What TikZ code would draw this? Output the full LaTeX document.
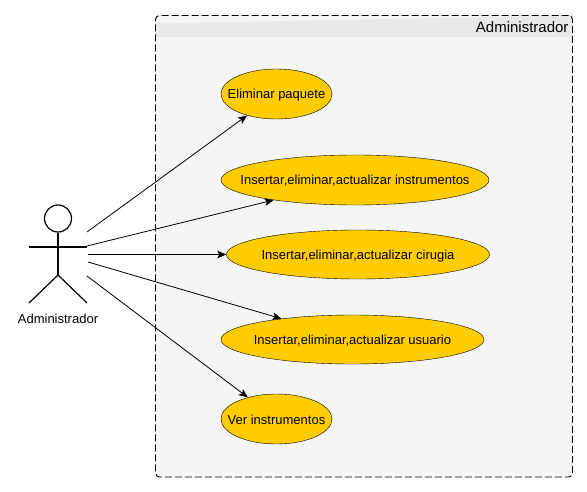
\documentclass[tikz,border=0pt]{standalone}
\usepackage{fontspec}
\setmainfont{Liberation Sans}
\usetikzlibrary{shapes.geometric,arrows.meta}
\definecolor{caseFill}{HTML}{FFCC00}
\definecolor{boxFill}{HTML}{F5F5F5}
\definecolor{boxHead}{HTML}{E9E9E9}
\begin{document}
\begin{tikzpicture}[x=1pt,y=-1pt,
    useCase/.style={draw,ellipse,fill=caseFill,inner sep=0pt,text height=10pt,text depth=0pt,font=\fontsize{13}{15}\selectfont},
    useLink/.style={-{Stealth[length=9pt,width=7.5pt,inset=2pt]},line width=0.8pt},
    actorLine/.style={line width=1.2pt},
]
\useasboundingbox (0,0) rectangle (587,492);
% System box
\node[draw=none,fill=boxFill,rounded corners=4pt,minimum width=417pt,minimum height=461.5pt,inner sep=0pt] (sysBox) at (364,246.25) {};
\fill[boxHead] (155.5,37) -- (155.5,19.5) arc[start angle=180,end angle=90,radius=4] -- (568.5,15.5) arc[start angle=90,end angle=0,radius=4] -- (572.5,37) -- cycle;
\node[draw,dash pattern=on 7pt off 3pt,line width=0.9pt,rounded corners=4pt,minimum width=417pt,minimum height=461.5pt,inner sep=0pt] (sysFrame) at (364,246.25) {};
\node[anchor=east,font=\fontsize{15}{17}\selectfont] (sysTitle) at (572,27) {Administrador};
% Use cases
\node[useCase,minimum width=111pt,minimum height=50pt] (caseA) at (276.5,94) {\makebox[0pt]{Eliminar paquete}};
\node[useCase,minimum width=268pt,minimum height=50pt] (caseB) at (355,180) {\makebox[0pt]{Insertar,eliminar,actualizar instrumentos}};
\node[useCase,minimum width=263pt,minimum height=49pt] (caseC) at (358,254.5) {\makebox[0pt]{Insertar,eliminar,actualizar cirugia}};
\node[useCase,minimum width=263pt,minimum height=49pt] (caseD) at (352.5,339.5) {\makebox[0pt]{Insertar,eliminar,actualizar usuario}};
\node[useCase,minimum width=111pt,minimum height=50pt] (caseE) at (276.5,419) {\makebox[0pt]{Ver instrumentos}};
% Actor
\node[draw,circle,line width=1.2pt,fill=white,minimum size=27pt,inner sep=0pt] (actorHead) at (58,218.5) {};
\coordinate (actorHip) at (58,275);
\coordinate (armL) at (29,247);
\coordinate (armR) at (87,247);
\coordinate (footL) at (29,303);
\coordinate (footR) at (87,303);
\draw[actorLine] (actorHead) -- (actorHip);
\draw[actorLine] (armL) -- (armR);
\draw[actorLine] (footL) -- (actorHip) -- (footR);
\node[font=\fontsize{13}{15}\selectfont] (actorName) at (58,318.5) {Administrador};
% Links
\coordinate (tailA) at (87,232);
\coordinate (tailB) at (87,246);
\coordinate (tailC) at (88,254.5);
\coordinate (tailD) at (88,262);
\coordinate (tailE) at (87,276);
\draw[useLink] (tailA) -- (caseA);
\draw[useLink] (tailB) -- (caseB);
\draw[useLink] (tailC) -- (caseC);
\draw[useLink] (tailD) -- (caseD);
\draw[useLink] (tailE) -- (caseE);
\end{tikzpicture}
\end{document}
